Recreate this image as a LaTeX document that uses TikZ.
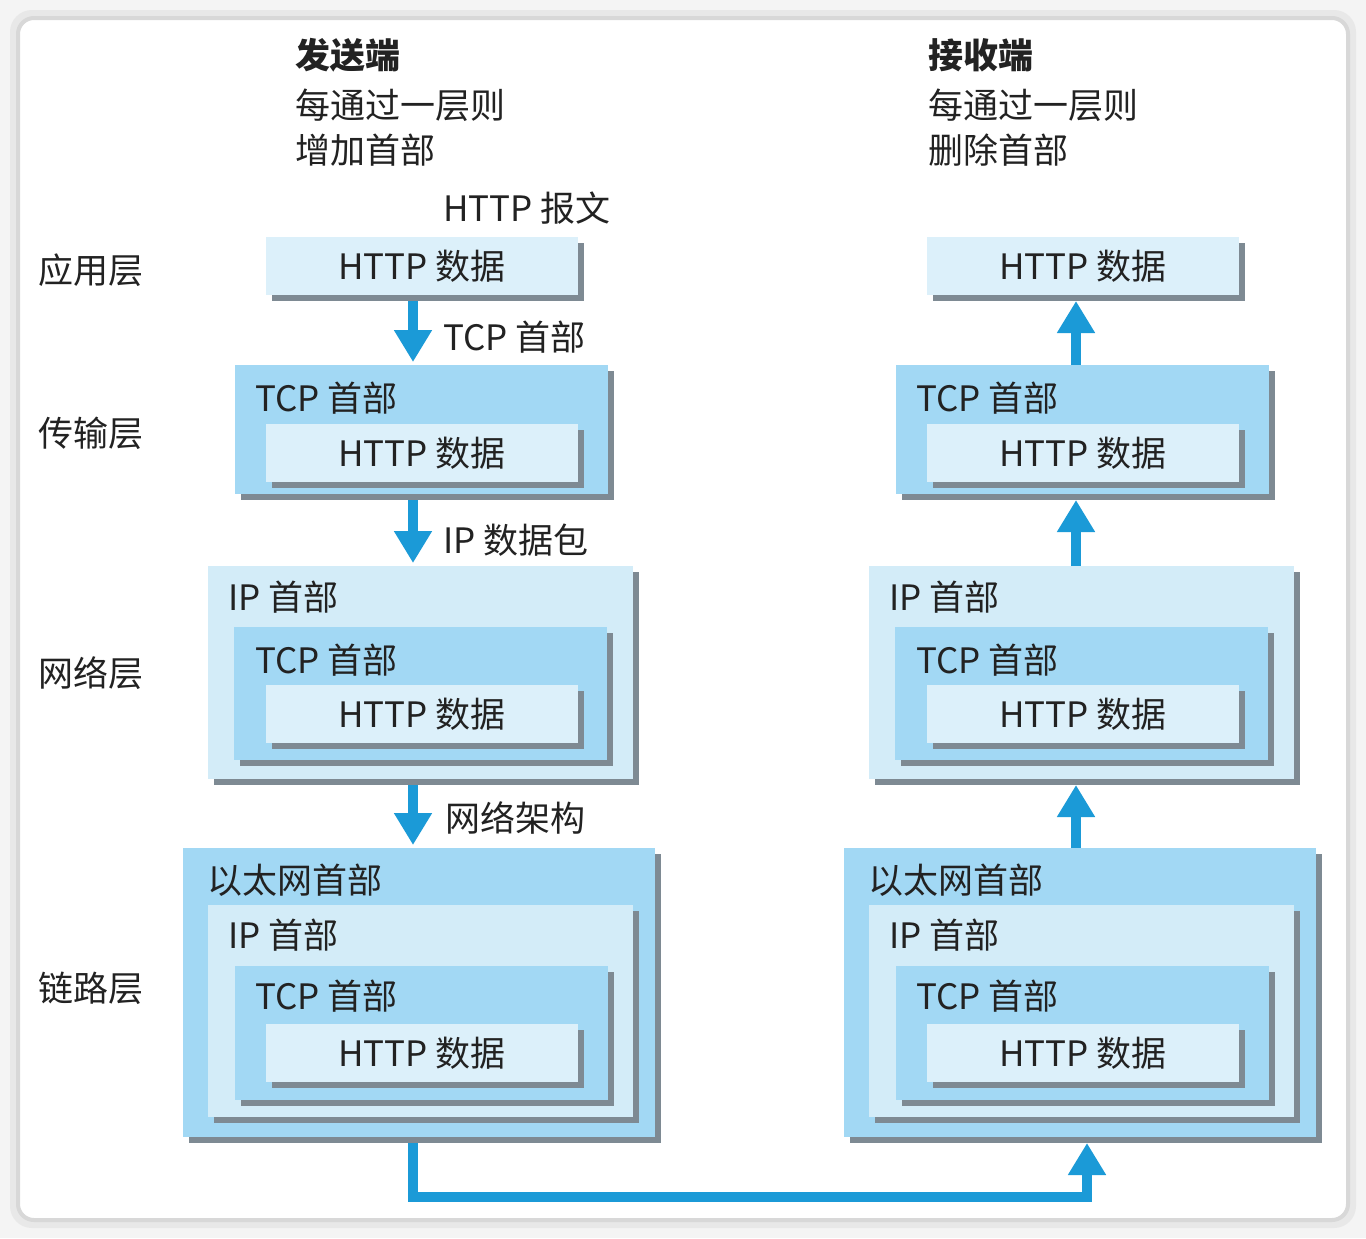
\documentclass[tikz,border=0pt]{standalone}
\usepackage{fontspec}
\setmainfont{Noto Sans CJK SC}
\usetikzlibrary{arrows.meta,shadows}
\definecolor{bgout}{HTML}{F4F4F4}
\definecolor{cardedge}{HTML}{D8D8D8}
\definecolor{cardhalo}{HTML}{E8E8E8}
\definecolor{darkblue}{HTML}{A2D8F4}
\definecolor{lightblue}{HTML}{D3ECF8}
\definecolor{palest}{HTML}{DCF0FA}
\definecolor{shade}{HTML}{7E8A93}
\definecolor{arrowblue}{HTML}{1B9AD7}
\definecolor{ink}{HTML}{222222}
\begin{document}
\begin{tikzpicture}[x=0.5pt,y=-0.5pt,
  every node/.style={inner sep=0pt, outer sep=0pt, text=ink, font=\fontsize{17.5}{21}\selectfont},
  boxbase/.style={anchor=north west, drop shadow={shadow xshift=3pt, shadow yshift=-3pt, fill=shade, opacity=1}},
  httpbox/.style={boxbase, fill=palest, minimum width=156pt, minimum height=29pt},
  tcpbox/.style={boxbase, fill=darkblue, minimum width=186.5pt},
  ipbox/.style={boxbase, fill=lightblue, minimum width=212.5pt},
  ethbox/.style={boxbase, fill=darkblue, minimum width=236pt, minimum height=144.5pt},
  lbl/.style={anchor=west},
  headfont/.style={font=\fontsize{17.5}{21}\selectfont\bfseries},
  flow/.style={draw=arrowblue, line width=5pt, line join=miter, -{Triangle[width=18pt,length=16pt]}},
]
% frame
\fill[bgout] (0,0) rectangle (1366,1238);
\draw[cardhalo, line width=4pt, rounded corners=9pt] (14,14) rectangle (1352,1224);
\draw[cardedge, fill=white, line width=2pt, rounded corners=8pt] (18,18) rectangle (1348,1220);

% headers
\node[lbl, headfont] (sendT) at (295,55) {发送端};
\node[lbl] (send1) at (295,105) {每通过一层则};
\node[lbl] (send2) at (295,150) {增加首部};
\node[lbl, headfont] (recvT) at (928,55) {接收端};
\node[lbl] (recv1) at (928,105) {每通过一层则};
\node[lbl] (recv2) at (928,150) {删除首部};
\node[lbl] (msg) at (443,208) {HTTP 报文};

% layer labels
\node[lbl] (lay1) at (39,270) {应用层};
\node[lbl] (lay2) at (39,433) {传输层};
\node[lbl] (lay3) at (39,673) {网络层};
\node[lbl] (lay4) at (39,988) {链路层};

% ---------- left column ----------
\node[httpbox] (A1) at (266,237) {HTTP 数据};

\node[tcpbox, minimum height=64.5pt] (T2) at (235,365) {};
\node[lbl] (T2t) at (255,398) {TCP 首部};
\node[httpbox] (T1) at (266,424) {HTTP 数据};

\node[ipbox, minimum height=106.5pt] (N3) at (208,566) {};
\node[lbl] (N3t) at (228,597) {IP 首部};
\node[tcpbox, minimum height=66.5pt] (N2) at (234,627) {};
\node[lbl] (N2t) at (255,660) {TCP 首部};
\node[httpbox] (N1) at (266,685) {HTTP 数据};

\node[ethbox] (L4) at (183,848) {};
\node[lbl] (L4t) at (207,880) {以太网首部};
\node[ipbox, minimum height=106pt] (L3) at (208,905) {};
\node[lbl] (L3t) at (228,935) {IP 首部};
\node[tcpbox, minimum height=67pt] (L2) at (235,966) {};
\node[lbl] (L2t) at (255,996) {TCP 首部};
\node[httpbox] (L1) at (266,1024) {HTTP 数据};

% ---------- right column ----------
\node[httpbox] (RA1) at (927,237) {HTTP 数据};

\node[tcpbox, minimum height=64.5pt] (RT2) at (896,365) {};
\node[lbl] (RT2t) at (916,398) {TCP 首部};
\node[httpbox] (RT1) at (927,424) {HTTP 数据};

\node[ipbox, minimum height=106.5pt] (RN3) at (869,566) {};
\node[lbl] (RN3t) at (889,597) {IP 首部};
\node[tcpbox, minimum height=66.5pt] (RN2) at (895,627) {};
\node[lbl] (RN2t) at (916,660) {TCP 首部};
\node[httpbox] (RN1) at (927,685) {HTTP 数据};

\node[ethbox] (RL4) at (844,848) {};
\node[lbl] (RL4t) at (868,880) {以太网首部};
\node[ipbox, minimum height=106pt] (RL3) at (869,905) {};
\node[lbl] (RL3t) at (889,935) {IP 首部};
\node[tcpbox, minimum height=67pt] (RL2) at (896,966) {};
\node[lbl] (RL2t) at (916,996) {TCP 首部};
\node[httpbox] (RL1) at (927,1024) {HTTP 数据};

% ---------- arrows ----------
\coordinate (axL) at (413,0);
\coordinate (axR) at (1076,0);
\coordinate (bl) at (413,1197);
\coordinate (br) at (1087,1197);

\draw[flow, shorten <=3pt, shorten >=1.5pt] (A1.south -| axL) -- (T2.north -| axL);
\node[lbl] (a1t) at (443,337) {TCP 首部};
\draw[flow, shorten <=3pt, shorten >=1.5pt] (T2.south -| axL) -- (N3.north -| axL);
\node[lbl] (a2t) at (443,540) {IP 数据包};
\draw[flow, shorten <=3pt, shorten >=1.5pt] (N3.south -| axL) -- (L4.north -| axL);
\node[lbl] (a3t) at (445,818) {网络架构};

\draw[flow, shorten >=3pt] (RT2.north -| axR) -- (RA1.south -| axR);
\draw[flow, shorten >=3pt] (RN3.north -| axR) -- (RT2.south -| axR);
\draw[flow, shorten >=3pt] (RL4.north -| axR) -- (RN3.south -| axR);

\draw[flow, shorten <=3pt, shorten >=3pt] (L4.south -| axL) -- (bl) -- (br) -- (RL4.south -| br);
\end{tikzpicture}
\end{document}
